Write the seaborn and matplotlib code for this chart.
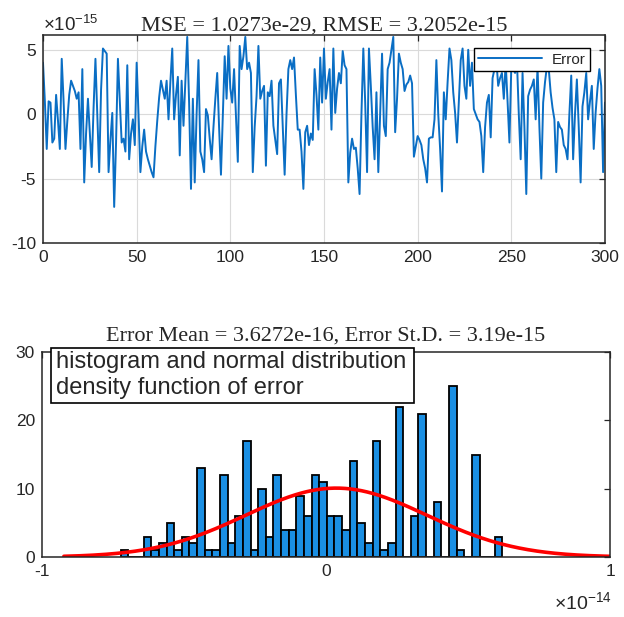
import numpy as np
import pandas as pd
import matplotlib
matplotlib.use("Agg")
import matplotlib.pyplot as plt
import seaborn as sns
from matplotlib.patches import Rectangle

# Prediction error per sample (units of 1e-15), samples 0..300
error = [
    4.0, 1.0, -2.7, 1.0, 0.9, -2.2, -1.9, 1.5, -0.5, -2.7,
    4.3, 1.0, -2.7, -0.5, 1.5, 2.6, 2.2, 1.8, 1.2, 1.7,
    -2.7, 3.5, -5.3, -1.5, 1.2, -1.5, -4.1, 0.5, 4.3, 0.0,
    -4.5, 1.9, 5.1, 4.9, 4.7, -4.5, -2.0, 0.1, -7.2, -2.2,
    4.3, 1.0, -2.2, -1.9, -2.9, 3.8, -3.5, -1.5, -0.4, -2.4,
    4.0, 0.0, -4.5, -2.5, -1.2, -2.9, -3.5, -4.0, -4.5, -4.9,
    -2.5, -0.5, 1.3, 2.6, 1.9, 1.2, 2.6, -0.4, 2.5, 5.1,
    -0.4, 1.5, 2.9, -3.2, 2.6, -0.9, 2.5, 6.0, 0.9, -5.8,
    1.2, -5.3, 0.0, 4.2, -2.9, -3.5, -4.5, 0.4, -0.1, -1.9,
    -3.5, -1.0, 1.2, 3.2, -1.0, -4.7, 0.0, 4.5, 1.2, 5.3,
    2.0, 0.9, 3.5, 0.0, -3.7, 5.3, 3.5, 4.5, 6.0, 3.5,
    4.0, 3.2, -4.5, -1.0, 1.4, 5.3, 1.2, 1.8, 2.2, -4.0,
    1.7, 1.4, 2.6, -0.9, -2.0, -3.1, 2.4, 2.7, -1.0, -4.7,
    0.0, 3.5, 4.2, 3.5, 4.4, 1.5, -1.2, -1.2, -2.9, -5.8,
    -1.4, -0.9, -2.4, -1.5, -2.0, 3.5, 1.5, -1.2, 4.4, 0.9,
    5.1, 1.2, 2.5, 3.5, -1.2, 5.1, 0.1, 2.0, 3.2, 2.4,
    4.9, 3.8, 3.5, -5.3, -3.0, -1.9, -2.7, -2.6, -4.2, -6.2,
    0.0, 5.1, 0.9, -4.5, 5.1, 2.2, -1.0, -3.5, 1.7, -4.5,
    0.0, 4.7, -0.9, -1.7, 3.5, 4.0, 5.0, 6.0, -1.4, 1.2,
    4.7, 4.0, 3.5, 1.8, 2.3, 2.5, 3.0, 2.4, -3.3, -2.5,
    -1.7, -2.0, -2.4, -3.5, -4.2, -5.3, -1.9, -1.8, -1.8, -0.4,
    4.2, 0.0, -2.7, -6.0, 1.7, -0.4, 2.5, 5.1, 4.2, 1.7,
    0.1, -2.2, 1.0, 4.2, 5.1, 2.2, 1.2, 5.0, 2.2, 4.0,
    0.4, 0.0, -0.4, -0.6, -1.7, -4.5, -1.0, 0.9, 1.5, -1.8,
    2.8, 3.5, 4.2, 2.2, 2.8, 3.2, 1.2, 4.0, 1.0, -2.2,
    3.7, 3.5, 3.2, 4.2, 0.0, -3.5, 3.2, -1.0, -6.2, 1.4,
    1.9, 2.2, 2.7, -0.4, 3.7, -1.0, -5.0, 0.9, 2.5, 3.7,
    3.5, 1.7, 0.5, -0.4, -4.5, -0.6, -1.0, -1.2, -2.4, -2.7,
    -3.5, 0.0, 3.0, -3.5, 0.0, 2.7, -1.0, -5.3, 0.6, 1.7,
    3.2, -0.4, 1.0, 2.2, -2.7, 0.1, 2.0, 3.5, 2.2, -4.5,
    0.9,
]

# Histogram of the error: 50 equal-width bins (units of 1e-14)
hist_start = -0.7228
hist_width = 0.02688
hist_counts = [
    1, 0, 0, 3, 1, 2, 5, 1, 3, 2,
    13, 1, 1, 12, 2, 6, 17, 1, 10, 3,
    12, 4, 4, 9, 6, 12, 11, 6, 6, 4,
    14, 5, 2, 17, 1, 2, 22, 0, 6, 21,
    0, 8, 0, 25, 1, 0, 15, 0, 0, 3,
]

mse = 1.0273e-29
rmse = 3.2052e-15
err_mean = 3.6272e-16
err_std = 3.19e-15

sns.set_style("white")
plt.rcParams["font.family"] = ["Liberation Sans", "DejaVu Sans"]
plt.rcParams["mathtext.fontset"] = "custom"
plt.rcParams["mathtext.rm"] = "Liberation Sans"
plt.rcParams["axes.unicode_minus"] = False

LINE_BLUE = "#0a6ec4"
BAR_BLUE = "#1a8fe3"
SPINE = "#262626"
SERIF = ["Liberation Serif", "DejaVu Serif"]

fig = plt.figure(figsize=(6.24, 6.17), dpi=100)
ax1 = fig.add_axes([0.0689, 0.6062, 0.9006, 0.3371])
ax2 = fig.add_axes([0.0673, 0.0972, 0.9103, 0.3323])

# ---- error time series ----
df = pd.DataFrame({"sample": np.arange(len(error)), "error": error})
sns.lineplot(data=df, x="sample", y="error", ax=ax1, color=LINE_BLUE,
             linewidth=1.4, label="Error")
ax1.set_xlim(0, 300)
ax1.set_ylim(-10, 6.15)
ax1.set_xticks(np.arange(0, 301, 50))
ax1.set_yticks([-10, -5, 0, 5])
ax1.set_xlabel("")
ax1.set_ylabel("")
ax1.grid(True, color="#dadada", linewidth=0.8)
ax1.set_title(f"MSE = {mse:.4e}, RMSE = {rmse:.4e}",
              fontsize=16, family=SERIF, pad=3)
leg = ax1.legend(loc="upper right", bbox_to_anchor=(0.9733, 0.9375),
                 borderaxespad=0, fancybox=False, framealpha=1,
                 edgecolor="black", fontsize=11, handlelength=4.2,
                 borderpad=0.3, handletextpad=0.6)
leg.get_frame().set_linewidth(1.0)
fig.text(0.069, 0.950, r"$\mathregular{\times10^{-15}}$", fontsize=13.5,
         ha="left", va="baseline", color=SPINE)

# ---- histogram with fitted normal curve ----
n_bins = len(hist_counts)
hist_df = pd.DataFrame({
    "center": hist_start + hist_width * (np.arange(n_bins) + 0.5),
    "count": hist_counts,
})
sns.histplot(data=hist_df, x="center", weights="count",
             binwidth=hist_width,
             binrange=(hist_start, hist_start + hist_width * n_bins),
             ax=ax2, color=BAR_BLUE, edgecolor="black", linewidth=1.3,
             alpha=1)
n_total = sum(hist_counts)
xs = np.linspace(-0.923, 1.0, 300)
scale = n_total * hist_width * 1e-14 / (err_std * np.sqrt(2 * np.pi))
ys = scale * np.exp(-((xs * 1e-14 - err_mean) ** 2) / (2 * err_std ** 2))
sns.lineplot(x=xs, y=ys, ax=ax2, color="#ff0000", linewidth=2.6)
ax2.set_xlim(-1, 1)
ax2.set_ylim(0, 30)
ax2.set_xticks([-1, 0, 1])
ax2.set_xticklabels(["-1", "0", "1"])
ax2.set_yticks([0, 10, 20, 30])
ax2.set_xlabel("")
ax2.set_ylabel("")
ax2.set_title(f"Error Mean = {err_mean:.4e}, Error St.D. = {err_std:.3g}",
              fontsize=16, family=SERIF, pad=8)
fig.text(0.981, 0.012, r"$\mathregular{\times10^{-14}}$", fontsize=14,
         ha="right", va="baseline", color=SPINE)

for ax in (ax1, ax2):
    for sp in ax.spines.values():
        sp.set_visible(True)
        sp.set_color(SPINE)
        sp.set_linewidth(1.1)
    ax.tick_params(direction="in", top=True, right=True, length=4,
                   width=0.9, labelsize=12.5, colors=SPINE, pad=5)

# annotation box over the histogram
fig.patches.append(Rectangle((0.0817, 0.3468), 0.5817, 0.0891,
                             transform=fig.transFigure, facecolor="white",
                             edgecolor="black", linewidth=1.2, zorder=5))
fig.text(0.090, 0.4135, "histogram and normal distribution", fontsize=17,
         ha="left", va="center", zorder=6)
fig.text(0.090, 0.3715, "density function of error", fontsize=17,
         ha="left", va="center", zorder=6)

fig.savefig("out.png", dpi=100)
